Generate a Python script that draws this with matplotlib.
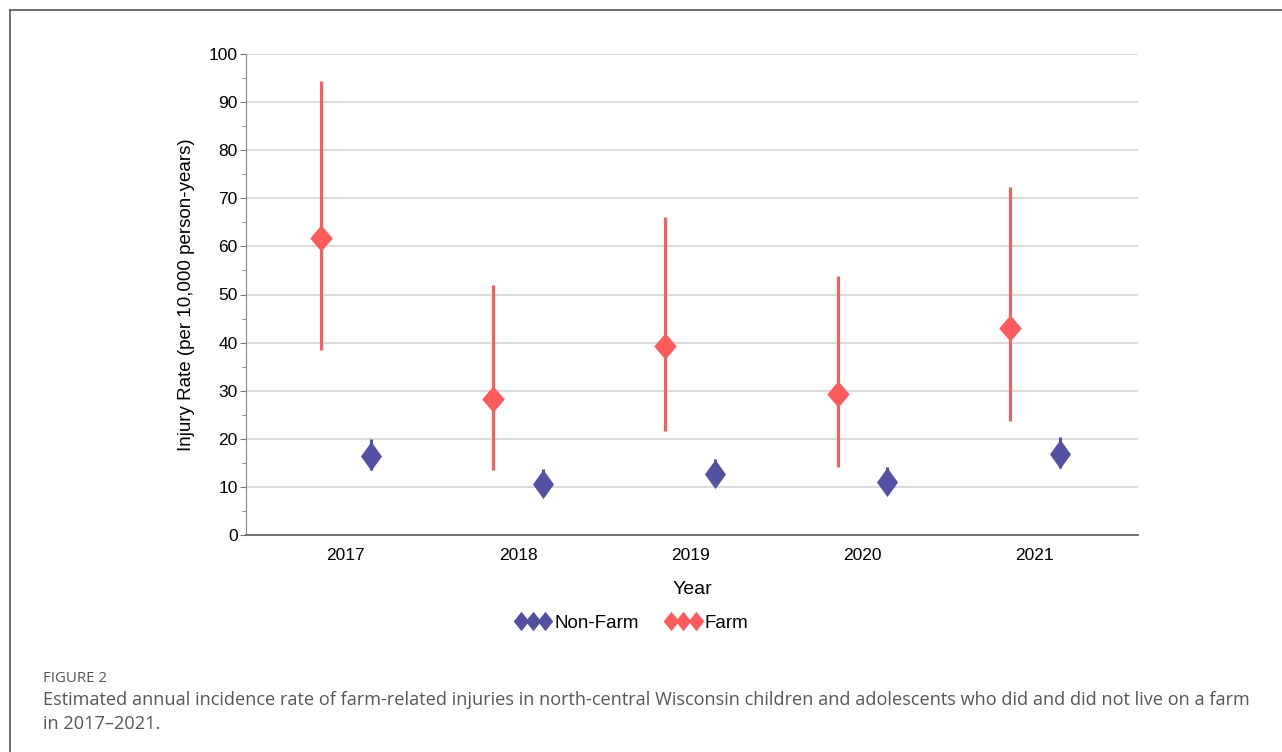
import matplotlib.pyplot as plt
import numpy as np
from matplotlib.lines import Line2D

plt.rcParams['font.family'] = ['Liberation Sans', 'DejaVu Sans']

years = ['2017', '2018', '2019', '2020', '2021']

farm_rate = [61.7, 28.3, 39.3, 29.3, 43.0]
farm_low = [38.5, 13.5, 21.6, 14.1, 23.7]
farm_high = [94.4, 52.0, 66.1, 53.8, 72.3]

nonfarm_rate = [16.4, 10.7, 12.6, 11.1, 16.8]
nonfarm_low = [13.5, 8.6, 10.5, 8.6, 13.9]
nonfarm_high = [20.0, 13.7, 15.8, 14.2, 20.4]

red = '#FF5A5C'
blue = '#5451A3'

# diamond shapes (wider farm, narrower non-farm)
farm_mk = [(-0.85, 0), (0, 1), (0.85, 0), (0, -1), (-0.85, 0)]
nonfarm_mk = [(-0.72, 0), (0, 1), (0.72, 0), (0, -1), (-0.72, 0)]
leg_mk = [(-0.8, 0), (0, 1), (0.8, 0), (0, -1), (-0.8, 0)]

fig = plt.figure(figsize=(12.82, 7.52), dpi=100)
ax = fig.add_axes([246/1282, 1-535/752, (1138-246)/1282, (535-54)/752])

x = np.arange(len(years))
off = 0.145

fr = np.array(farm_rate)
ax.errorbar(x - off, fr, yerr=[fr - np.array(farm_low), np.array(farm_high) - fr],
            fmt='none', ecolor=red, elinewidth=2.2, capsize=0, zorder=3)
ax.plot(x - off, fr, linestyle='none', marker=farm_mk, markersize=19,
        color=red, markeredgewidth=0, zorder=4)

nr = np.array(nonfarm_rate)
ax.errorbar(x + off, nr, yerr=[nr - np.array(nonfarm_low), np.array(nonfarm_high) - nr],
            fmt='none', ecolor=blue, elinewidth=2.2, capsize=0, zorder=3)
ax.plot(x + off, nr, linestyle='none', marker=nonfarm_mk, markersize=21,
        color=blue, markeredgewidth=0, zorder=4)

ax.set_xlim(-0.58, 4.6)
ax.set_ylim(0, 100)
ax.set_yticks(np.arange(0, 101, 10))
ax.set_yticks(np.arange(5, 100, 10), minor=True)
ax.set_xticks(x)
ax.set_xticklabels(years)
ax.tick_params(axis='x', length=0, labelsize=12.5, pad=9)
ax.tick_params(axis='y', which='major', length=4, color='#777777', labelsize=12.5, pad=2)
ax.tick_params(axis='y', which='minor', length=3, color='#777777')
ax.grid(axis='y', color='#d4d4d4', linewidth=1.2)
ax.set_axisbelow(True)
for s in ['top', 'right']:
    ax.spines[s].set_visible(False)
ax.spines['left'].set_color('#888888')
ax.spines['bottom'].set_color('#666666')
ax.spines['bottom'].set_linewidth(1.3)

ax.set_xlabel('Year', fontsize=14, labelpad=13)
ax.set_ylabel('Injury Rate (per 10,000 person-years)', fontsize=13.5, labelpad=10)

handles = [Line2D([], [], linestyle='none', marker=leg_mk, markersize=14, color=blue, markeredgewidth=0),
           Line2D([], [], linestyle='none', marker=leg_mk, markersize=14, color=red, markeredgewidth=0)]
fig.legend(handles, ['Non-Farm', 'Farm'], loc='center', bbox_to_anchor=(632/1282, 1-623/752),
           ncol=2, frameon=False, numpoints=3, handlelength=1.9, handletextpad=0.2,
           columnspacing=1.4, fontsize=13.5)

# figure frame
fig.add_artist(Line2D([10/1282, 10/1282], [0, 1-10/752], color='#555555', linewidth=1.2))
fig.add_artist(Line2D([10/1282, 1], [1-10/752, 1-10/752], color='#555555', linewidth=1.2))

fig.text(43/1282, 1-678/752, 'FIGURE 2', fontsize=10.8, color='#555555',
         family='Open Sans', va='center')
fig.text(43/1282, 1-712/752,
         'Estimated annual incidence rate of farm-related injuries in north-central Wisconsin '
         'children and adolescents who did and did not live on a farm\nin 2017\u20132021.',
         fontsize=13.05, color='#555555', family='Open Sans', va='center', linespacing=1.45)

fig.savefig('out.png', dpi=100)
